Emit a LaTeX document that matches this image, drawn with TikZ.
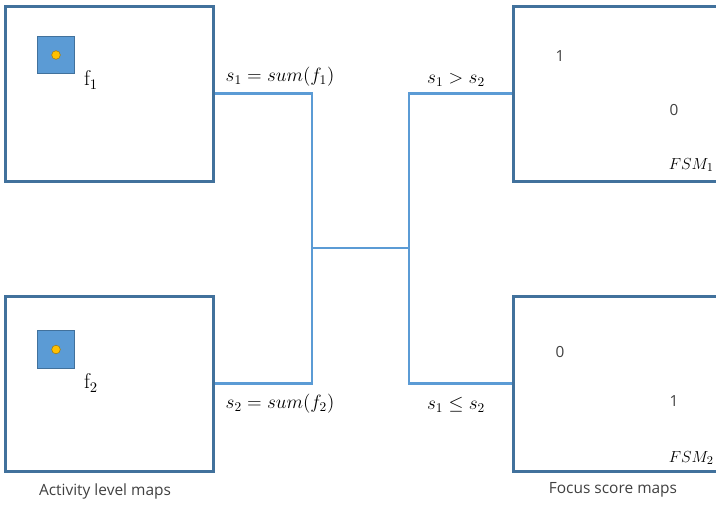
\documentclass[tikz,border=0pt]{standalone}
\usepackage{fontspec}
\setsansfont{Open Sans}
\definecolor{boxblue}{HTML}{41719C}
\definecolor{lineblue}{HTML}{5B9BD5}
\definecolor{dotyellow}{HTML}{FFC000}
\definecolor{dotedge}{HTML}{A07A10}
\definecolor{numgray}{HTML}{404040}
\begin{document}
\begin{tikzpicture}[x=0.75pt,y=-0.75pt,
  mapbox/.style={draw=boxblue,line width=2.25pt,inner sep=0pt},
  conn/.style={draw=lineblue,line width=1.6pt},
  patch/.style={draw=boxblue,fill=lineblue,line width=0.6pt,minimum size=28pt,inner sep=0pt},
  ydot/.style={circle,draw=dotedge,fill=dotyellow,line width=0.4pt,minimum size=6.5pt,inner sep=0pt},
  lbl/.style={font=\fontsize{14.5}{16}\selectfont,inner sep=0pt},
  flbl/.style={font=\fontsize{16}{18}\selectfont,inner sep=0pt},
  fsm/.style={font=\fontsize{13}{16}\selectfont,inner sep=0pt,anchor=east},
  num/.style={font=\sffamily\fontsize{11.5}{13}\selectfont,text=numgray,inner sep=0pt},
  capt/.style={font=\sffamily\fontsize{11.6}{13}\selectfont,text=numgray,inner sep=0pt}]
\useasboundingbox (0,0) rectangle (716,504);
\clip (0,0) rectangle (716,504);
% boxes
\node[mapbox,minimum width=156pt,minimum height=131.25pt] (b1) at (109,93.5) {};
\node[mapbox,minimum width=156pt,minimum height=131.25pt] (b2) at (109,383.5) {};
\node[mapbox,minimum width=160pt,minimum height=131.25pt] (r1) at (620,93.5) {};
\node[mapbox,minimum width=160pt,minimum height=131.25pt] (r2) at (620,383.5) {};
% patches
\node[patch] (p1) at (56,55) {};
\node[ydot] (d1) at (p1.center) {};
\node[patch] (p2) at (56,349.5) {};
\node[ydot] (d2) at (p2.center) {};
\node[flbl] (f1) at (91,80) {$\mathrm{f}_1$};
\node[flbl] (f2) at (91,383) {$\mathrm{f}_2$};
% connectors
\coordinate (j1) at (312,248);
\coordinate (j2) at (409,248);
\draw[conn] (b1.east) -| (j1) |- (b2.east);
\draw[conn] (j1) -- (j2);
\draw[conn] (r1.west) -| (j2) |- (r2.west);
% labels
\node[lbl] (e1) at (280,77) {$s_1 = sum(f_1)$};
\node[lbl] (e2) at (280,404) {$s_2 = sum(f_2)$};
\node[lbl] (c1) at (456,80) {$s_1 > s_2$};
\node[lbl] (c2) at (456,405) {$s_1 \leq s_2$};
% numbers
\node[num] (n11) at (560,56) {1};
\node[num] (n10) at (674,110) {0};
\node[num] (n20) at (560,352) {0};
\node[num] (n21) at (674,401) {1};
\node[fsm] (fsm1) at (714,165) {$FSM_1$};
\node[fsm] (fsm2) at (714,458) {$FSM_2$};
% captions
\node[capt] (a) at (105,491) {Activity level maps};
\node[capt] (fs) at (613,490) {Focus score maps};
\end{tikzpicture}
\end{document}
